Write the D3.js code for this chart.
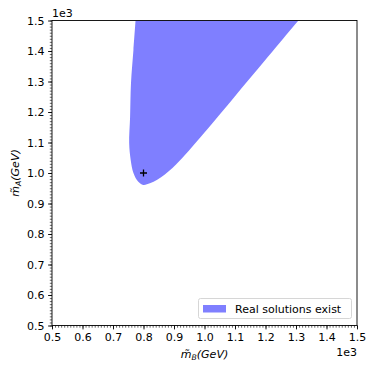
<!DOCTYPE html>
<html><head><meta charset="utf-8">
<script src="https://cdn.jsdelivr.net/npm/d3@7"></script>
<style>body{margin:0;background:#fff}svg{display:block;font-family:"DejaVu Sans",sans-serif}</style>
</head><body><svg id="c" width="374" height="370"></svg>
<script>
// Boundary of the region where real solutions exist (mB, mA in GeV)
const regionLeft = [[774,1500],[767,1403],[759,1295],[756,1184],[753,1098],[758,1043],[767,1000],[783,971],[799,961]];
const regionRight = [[821,966],[845,978],[870,995],[895,1016],[920,1042],[950,1075],[1000,1133],[1100,1252],[1200,1371],[1308,1500]];
const markerPoint = [[800,1000]];
const majorTicks = [500,600,700,800,900,1000,1100,1200,1300,1400,1500];
const tickLabels = ["0.5","0.6","0.7","0.8","0.9","1.0","1.1","1.2","1.3","1.4","1.5"];
const minorTicks = d3.range(500,1501,10);
const legendLabel = "Real solutions exist";

const FS = 11;
const svg = d3.select("#c");
const L=52, R=357, T=20.5, B=325.5;
const x = d3.scaleLinear().domain([500,1500]).range([L,R]);
const y = d3.scaleLinear().domain([500,1500]).range([B,T]);

svg.append("clipPath").attr("id","clip").append("rect").attr("x",L).attr("y",T).attr("width",R-L).attr("height",B-T);

const pts = regionLeft.concat(regionRight);
const line = d3.line().x(d=>x(d[0])).y(d=>y(d[1])).curve(d3.curveCatmullRom.alpha(0.5));
svg.append("path").attr("d", line(pts)+"Z").attr("fill","#0000ff").attr("fill-opacity",0.5).attr("clip-path","url(#clip)");

// marker
markerPoint.forEach(p=>{
  const cx=x(p[0]), cy=y(p[1]);
  svg.append("path").attr("d",`M${cx-3.5},${cy}H${cx+3.5}M${cx},${cy-3.5}V${cy+3.5}`).attr("stroke","#000").attr("stroke-width",1.3);
});

// axes
const xAxis = svg.append("g").attr("transform",`translate(0,${B})`)
  .call(d3.axisBottom(x).tickValues(majorTicks).tickFormat((d,i)=>tickLabels[i]).tickSize(3.9).tickPadding(3.5));
const xMinor = svg.append("g").attr("transform",`translate(0,${B})`)
  .call(d3.axisBottom(x).tickValues(minorTicks).tickFormat("").tickSize(2.2));
const yAxis = svg.append("g").attr("transform",`translate(${L},0)`)
  .call(d3.axisLeft(y).tickValues(majorTicks).tickFormat((d,i)=>tickLabels[i]).tickSize(3.9).tickPadding(3.5));
const yMinor = svg.append("g").attr("transform",`translate(${L},0)`)
  .call(d3.axisLeft(y).tickValues(minorTicks).tickFormat("").tickSize(2.2));
[xAxis,xMinor,yAxis,yMinor].forEach(g=>{
  g.select(".domain").remove();
  g.selectAll("line").attr("stroke","#000").attr("stroke-width",0.9);
  g.selectAll("text").attr("font-size",FS).attr("fill","#000").attr("font-family","DejaVu Sans");
});
xMinor.selectAll("line").attr("stroke-width",0.6);
yMinor.selectAll("line").attr("stroke-width",0.6);

// frame
svg.append("rect").attr("x",L).attr("y",T).attr("width",R-L).attr("height",B-T).attr("fill","none").attr("stroke","#000").attr("stroke-width",0.9);

// offset texts
svg.append("text").attr("x",L).attr("y",T-4).attr("font-size",FS).text("1e3");
svg.append("text").attr("x",R).attr("y",356).attr("text-anchor","end").attr("font-size",FS).text("1e3");

// axis labels
function mathLabel(g, sub){
  const t = g.append("text").attr("font-size",FS).attr("text-anchor","middle").attr("font-family","DejaVu Sans").attr("font-style","oblique");
  t.append("tspan").text("m\u0303");
  t.append("tspan").attr("font-size",7.7).attr("dy",2).text(sub);
  t.append("tspan").attr("dy",-2).text("(GeV)");
  return t;
}
mathLabel(svg.append("g").attr("transform",`translate(${(L+R)/2},358)`), "B");
mathLabel(svg.append("g").attr("transform",`translate(19,${(T+B)/2}) rotate(-90)`), "A");

// legend
const lg = svg.append("g");
lg.append("rect").attr("x",198.5).attr("y",298.5).attr("width",153).attr("height",20).attr("rx",2)
  .attr("fill","#fff").attr("fill-opacity",0.8).attr("stroke","#cccccc").attr("stroke-width",0.8);
lg.append("rect").attr("x",203).attr("y",305).attr("width",23).attr("height",7.5).attr("fill","#0000ff").attr("fill-opacity",0.5);
lg.append("text").attr("x",235).attr("y",312.5).attr("font-size",FS).text(legendLabel);
</script></body></html>
